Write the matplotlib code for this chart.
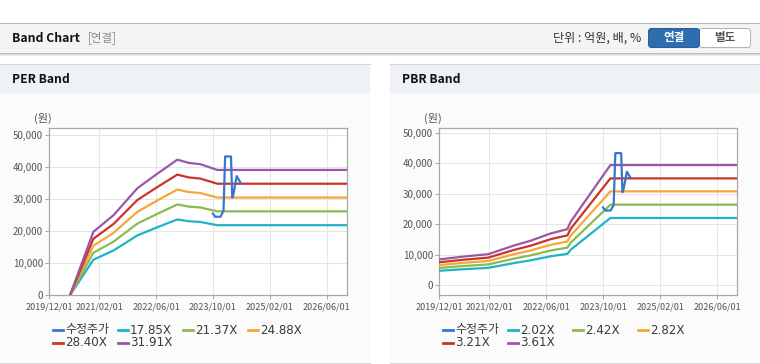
import numpy as np
import matplotlib
matplotlib.use('Agg')
import matplotlib.pyplot as plt
from matplotlib.patches import Rectangle, FancyBboxPatch
from matplotlib.lines import Line2D
from matplotlib.transforms import Affine2D

plt.rcParams['font.family'] = ['Noto Sans CJK KR', 'DejaVu Sans']

W, H = 760, 364

# ---------------- data ----------------
x_start, x_end = '2019-12-01', '2026-11-22'
tick_dates = ['2019-12-01', '2021-02-01', '2022-06-01', '2023-10-01', '2025-02-01', '2026-06-01']
tick_labels = ['2019/12/01', '2021/02/01', '2022/06/01', '2023/10/01', '2025/02/01', '2026/06/01']

# PER band
per_dates = ['2020-05-26', '2020-12-12', '2021-06-03', '2021-12-24', '2022-06-15',
             '2022-12-01', '2023-03-09', '2023-06-16', '2023-11-08', '2026-11-22']
per_1785 = [0, 11080, 13990, 18680, 21260, 23660, 23100, 22880, 21870, 21870]
per_2137 = [0, 13260, 16740, 22370, 25450, 28330, 27660, 27390, 26180, 26180]
per_2488 = [0, 15440, 19490, 26040, 29630, 32980, 32200, 31890, 30490, 30490]
per_2840 = [0, 17620, 22250, 29730, 33820, 37650, 36760, 36400, 34800, 34800]
per_3191 = [0, 19800, 25000, 33400, 38000, 42300, 41300, 40900, 39100, 39100]
per_labels = ['수정주가', '17.85X', '21.37X', '24.88X', '28.40X', '31.91X']

# PBR band
pbr_dates = ['2019-12-01', '2020-06-23', '2021-01-23', '2021-08-28', '2022-01-20',
             '2022-07-11', '2022-11-30', '2022-12-28', '2023-12-03', '2026-11-22']
pbr_202 = [4760, 5260, 5710, 7270, 8170, 9510, 10300, 11640, 22050, 22050]
pbr_242 = [5700, 6300, 6840, 8720, 9790, 11400, 12340, 13940, 26410, 26410]
pbr_282 = [6640, 7340, 7970, 10160, 11410, 13280, 14370, 16250, 30780, 30780]
pbr_321 = [7560, 8360, 9070, 11560, 12980, 15120, 16360, 18500, 35030, 35030]
pbr_361 = [8500, 9400, 10200, 13000, 14600, 17000, 18400, 20800, 39400, 39400]
pbr_labels = ['수정주가', '2.02X', '2.42X', '2.82X', '3.21X', '3.61X']

# adjusted price (수정주가)
price_dates = ['2023-10-01', '2023-10-20', '2023-12-05', '2023-12-31', '2024-01-14',
               '2024-03-04', '2024-03-15', '2024-03-22', '2024-04-22', '2024-05-25']
price = [25500, 24500, 24500, 26400, 43300, 43300, 30500, 31000, 37200, 35100]

per_yticks = [0, 10000, 20000, 30000, 40000, 50000]
pbr_yticks = [0, 10000, 20000, 30000, 40000, 50000]

colors = ['#3676cc', '#1fb3c5', '#8bbb50', '#f2a83a', '#cc3328', '#9a57a6']

# ---------------- figure ----------------
fig = plt.figure(figsize=(W / 100, H / 100), dpi=100)
fig.patch.set_facecolor('white')
T = Affine2D().scale(1 / W, -1 / H).translate(0, 1) + fig.transFigure


def rect(x0, y0, x1, y1, fc, ec='none', lw=0, z=0):
    fig.add_artist(Rectangle((x0, y0), x1 - x0, y1 - y0, transform=T,
                             facecolor=fc, edgecolor=ec, linewidth=lw, zorder=z))


def hline(x0, x1, y, c, lw=1.0):
    fig.add_artist(Line2D([x0, x1], [y, y], transform=T, color=c, linewidth=lw * 0.75))


# header bar
rect(0, 23, W, 52.5, '#f4f4f4')
hline(0, W, 22.5, '#b4b4b4')
hline(0, W, 52.8, '#bdbdbd')
hline(0, W, 53.8, '#d8d8d8')
hline(0, W, 54.8, '#ececec')
fig.text(12, 38, 'Band Chart', transform=T, fontsize=8.8, fontweight='bold',
         color='#111111', va='center', ha='left')
fig.text(88, 38, '[연결]', transform=T, fontsize=8.3, color='#8a8a8a', va='center', ha='left')
fig.text(641.5, 38, '단위 : 억원, 배, %', transform=T, fontsize=8.7, color='#333333',
         va='center', ha='right')
fig.add_artist(FancyBboxPatch((699, 28.5), 51.5, 19, boxstyle='round,pad=0,rounding_size=3',
                              transform=T, facecolor='white', edgecolor='#b5b5b5', linewidth=0.75))
fig.add_artist(FancyBboxPatch((648.5, 28.5), 51, 19, boxstyle='round,pad=0,rounding_size=3',
                              transform=T, facecolor='#2e6db0', edgecolor='#2a5f9c', linewidth=0.75))
fig.text(674, 38, '연결', transform=T, fontsize=8.3, fontweight='bold', color='white',
         va='center', ha='center')
fig.text(725, 38, '별도', transform=T, fontsize=8.3, fontweight='bold', color='#555555',
         va='center', ha='center')

# panels
for (px0, px1, title) in [(0, 370, 'PER Band'), (390, 760, 'PBR Band')]:
    rect(px0, 64, px1, 362, '#fbfbfb')
    rect(px0, 64.5, px1, 93, '#eef1f6')
    hline(px0, px1, 64.3, '#d4d4d4')
    hline(px0, px1, 362.5, '#d8d8d8')
    fig.text(px0 + 12, 79.5, title, transform=T, fontsize=8.7, fontweight='bold',
             color='#111111', va='center', ha='left')


def to_d(lst):
    return np.array(lst, dtype='datetime64[D]')


def make_axes(x0, x1, y0, y1):
    return fig.add_axes([x0 / W, 1 - y1 / H, (x1 - x0) / W, (y1 - y0) / H])


def style_axes(ax, ylim, yticks):
    ax.set_facecolor('white')
    ax.set_xlim(to_d(x_start)[()], to_d(x_end)[()])
    ax.set_ylim(*ylim)
    ax.set_xticks(to_d(tick_dates))
    ax.set_xticklabels(tick_labels)
    ax.set_yticks(yticks)
    ax.set_yticklabels([f'{v:,}' for v in yticks])
    ax.grid(True, color='#e6e6e6', linewidth=0.75)
    ax.set_axisbelow(True)
    for s in ax.spines.values():
        s.set_color('#a8a8a8')
        s.set_linewidth(0.9)
    ax.tick_params(axis='both', colors='#a8a8a8', length=3, width=0.75)
    ax.tick_params(axis='x', labelsize=6.5, labelcolor='#555555', pad=2.5)
    ax.tick_params(axis='y', labelsize=7.0, labelcolor='#555555', pad=1.5)


def legend(x0, labels):
    rows = [330, 343]
    for i, lab in enumerate(labels):
        r, c = divmod(i, 4)
        x = x0 + 65 * c
        y = rows[r]
        fig.add_artist(Line2D([x, x + 10], [y, y], transform=T, color=colors[i], linewidth=2.0))
        fig.text(x + 12, y, lab, transform=T, fontsize=8.6, color='#3a3a3a', va='center',
                 ha='left', family=['DejaVu Sans', 'Noto Sans CJK KR'])


# PER chart
ax1 = make_axes(49.3, 347, 128, 295.3)
style_axes(ax1, (0, 52180), per_yticks)
pd_ = to_d(per_dates)
for i, s in enumerate([per_1785, per_2137, per_2488, per_2840, per_3191]):
    ax1.plot(pd_, s, color=colors[i + 1], linewidth=1.6, solid_joinstyle='miter', zorder=3)
ax1.plot(to_d(price_dates), price, color=colors[0], linewidth=1.6, zorder=4)
fig.text(43, 118, '(원)', transform=T, fontsize=8, color='#555555', va='center', ha='center')
legend(53, per_labels)

# PBR chart
ax2 = make_axes(439.3, 737.3, 128, 295.3)
style_axes(ax2, (-3280, 51540), pbr_yticks)
bd_ = to_d(pbr_dates)
for i, s in enumerate([pbr_202, pbr_242, pbr_282, pbr_321, pbr_361]):
    ax2.plot(bd_, s, color=colors[i + 1], linewidth=1.6, solid_joinstyle='miter', zorder=3)
ax2.plot(to_d(price_dates), price, color=colors[0], linewidth=1.6, zorder=4)
fig.text(433, 118, '(원)', transform=T, fontsize=8, color='#555555', va='center', ha='center')
legend(443, pbr_labels)

fig.savefig('out.png', dpi=100)
